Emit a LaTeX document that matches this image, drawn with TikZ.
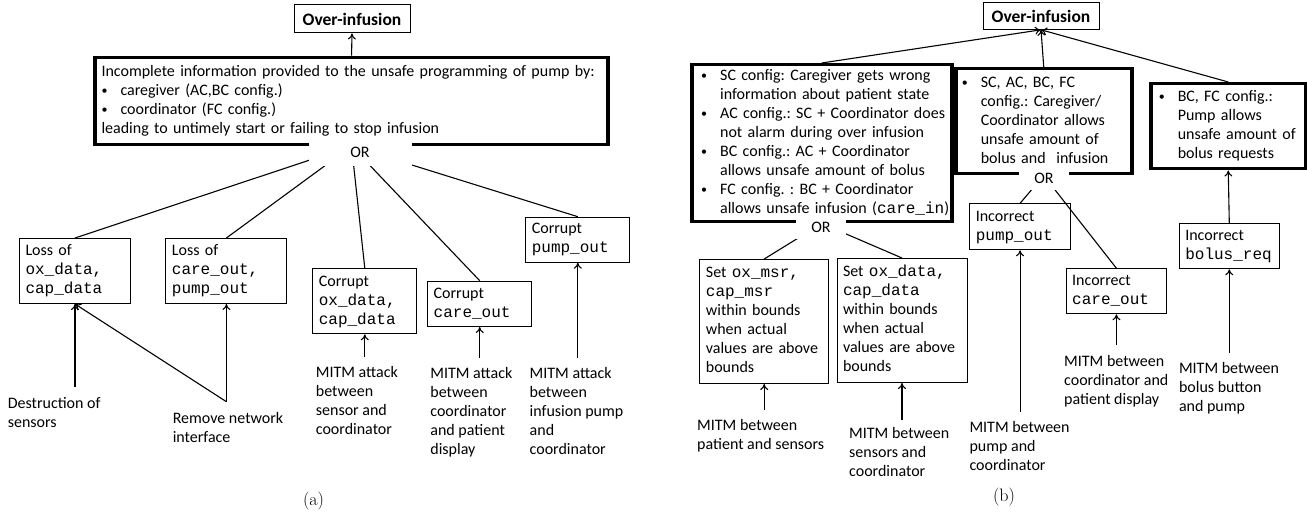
\documentclass[tikz,border=0pt]{standalone}
\usepackage{fontspec}
\setmonofont{Liberation Mono}
\newfontfamily\calfont{Carlito}
\usetikzlibrary{arrows.meta}
\frenchspacing
\newcommand\txtf{\calfont\fontsize{16}{19}\selectfont\frenchspacing}
\newcommand\tb[1]{\begin{tabular}{@{}l@{}}#1\end{tabular}}
\newcommand\bu{\makebox[19pt][l]{\raisebox{1pt}{\fontsize{12}{12}\selectfont •}}}
\newcommand\ind{\hspace*{19pt}}
\newcommand\cd[1]{{\ttfamily #1}}
\tikzset{
  obox/.style={draw, line width=1pt, minimum width=116pt, minimum height=28pt, inner sep=0pt,
    font=\calfont\fontsize{17.5}{20}\selectfont\bfseries},
  tbox/.style={draw, line width=3.5pt, anchor=north west, inner ysep=2pt, align=left},
  sbox/.style={draw, line width=1pt, anchor=north west, inner xsep=6pt, inner ysep=2pt, align=left},
  lbl/.style={anchor=north west, inner sep=0pt},
  ornode/.style={fill=white, inner sep=0pt},
  con/.style={line width=1.1pt},
  arr/.style={line width=1.1pt, -{To[length=6pt,width=8pt]}},
  capt/.style={font=\fontsize{18}{22}\selectfont},
}
\begin{document}
\begin{tikzpicture}[x=1pt, y=-1pt, every node/.style={font=\txtf}]
\useasboundingbox (0,0) rectangle (1307,518);

% ---------------- (a) ----------------
\node[obox] (o1) at (352,19) {Over-infusion};
\node[tbox, inner xsep=6.4pt, text width=500pt, minimum height=87pt] (big) at (93.4,55.7)
  {\tb{Incomplete information provided to the unsafe programming of pump by:\\
  \bu caregiver (AC,BC config.)\\
  \bu coordinator (FC config.)\\
  leading to untimely start or failing to stop infusion}};
\draw[arr] (big.north) -- (o1.south);

\node[sbox, text width=99pt, minimum height=65pt] (b1) at (19,238) {\tb{Loss of\\\cd{ox\_data,}\\\cd{cap\_data}}};
\node[sbox, text width=109pt, minimum height=65pt] (b2) at (165.4,238) {\tb{Loss of\\\cd{care\_out,}\\\cd{pump\_out}}};
\node[sbox, text width=92pt, minimum height=65pt] (b3) at (312.3,268.3) {\tb{Corrupt\\\cd{ox\_data,}\\\cd{cap\_data}}};
\node[sbox, text width=92pt, minimum height=45.3pt] (b4) at (427.2,280.7) {\tb{Corrupt\\\cd{care\_out}}};
\node[sbox, text width=92pt, minimum height=45pt] (b5) at (525.3,216.7) {\tb{Corrupt\\\cd{pump\_out}}};

\foreach \n in {b1,b2,b3,b4,b5} \draw[con] (big.south) -- (\n.north);
\node[ornode, minimum width=103pt, minimum height=27pt] (or1) at (360,152.5) {OR};

\coordinate (l1) at (b1.south |- 0,387);
\node[lbl] (t1) at (7.6,395.5) {\tb{Destruction of\\sensors}};
\draw[arr] (l1) -- (b1.south);
\coordinate (rn) at (b2.south |- 0,401.7);
\node[lbl] (t2) at (172.6,410.2) {\tb{Remove network\\interface}};
\draw[arr] (rn) -- (b1.south);
\draw[arr] (rn) -- (b2.south);
\coordinate (l3) at (b3.south |- 0,356.7);
\node[lbl] (t3) at (315.7,364) {\tb{MITM attack\\between\\sensor and\\coordinator}};
\draw[arr] (l3) -- (b3.south);
\coordinate (l4) at (b4.south |- 0,358);
\node[lbl] (t4) at (430.2,365.2) {\tb{MITM attack\\between\\coordinator\\and patient\\display}};
\draw[arr] (l4) -- (b4.south);
\coordinate (l5) at (b5.south |- 0,358);
\node[lbl] (t5) at (529.5,365.2) {\tb{MITM attack\\between\\infusion pump\\and\\coordinator}};
\draw[arr] (l5) -- (b5.south);

\node[capt] (ca) at (313.6,501) {(a)};

% ---------------- (b) ----------------
\node[obox, minimum height=26.6pt] (o2) at (1041,16) {Over-infusion};
\node[tbox, inner xsep=9.4pt, text width=241.2pt, minimum height=157pt] (A) at (690,63)
  {\tb{\bu SC config: Caregiver gets wrong\\
  \ind information about patient state\\
  \bu AC config.: SC + Coordinator does\\
  \ind not alarm during over infusion\\
  \bu BC config.: AC + Coordinator\\
  \ind allows unsafe amount of bolus\\
  \bu FC config. : BC + Coordinator\\
  \ind allows unsafe infusion (\cd{care\_in})}};
\node[tbox, inner xsep=6pt, text width=164pt, minimum height=105pt] (B) at (954,67)
  {\tb{\bu SC, AC, BC, FC\\
  \ind config.: Caregiver/\\
  \ind Coordinator allows\\
  \ind unsafe amount of\\
  \ind bolus and\ \ infusion}};
\node[tbox, inner xsep=8pt, text width=139pt, minimum height=85pt] (C) at (1149,82)
  {\tb{\bu BC, FC config.:\\
  \ind Pump allows\\
  \ind unsafe amount of\\
  \ind bolus requests}};
\draw[arr] (A.north) -- (o2.south);
\draw[arr] (B.north) -- (o2.south);
\draw[arr] (C.north) -- (o2.south);

\node[sbox, text width=116.6pt, minimum height=124pt] (s1) at (699.4,259)
  {\tb{Set \cd{ox\_msr,}\\\cd{cap\_msr}\\within bounds\\when actual\\values are above\\bounds}};
\node[sbox, text width=118pt, minimum height=124pt] (s2) at (836.5,258)
  {\tb{Set \cd{ox\_data,}\\\cd{cap\_data}\\within bounds\\when actual\\values are above\\bounds}};
\draw[con] (A.south) -- (s1.north);
\draw[con] (A.south) -- (s2.north);
\node[ornode, minimum width=50pt, minimum height=24pt] (or2) at (821,227.5) {OR};

\node[sbox, text width=88.5pt, minimum height=46pt] (p) at (969.3,203.3) {\tb{Incorrect\\\cd{pump\_out}}};
\node[sbox, text width=88.5pt, minimum height=45pt] (c) at (1065.7,268.3) {\tb{Incorrect\\\cd{care\_out}}};
\draw[con] (B.south) -- (p.north);
\draw[con] (B.south) -- (c.north);
\node[ornode, minimum width=50pt, minimum height=24pt] (or3) at (1044,178) {OR};

\node[sbox, text width=88pt, minimum height=45pt] (bo) at (1178.8,223.3) {\tb{Incorrect\\\cd{bolus\_req}}};
\draw[arr] (bo.north) -- (C.south);

\coordinate (ls1) at (s1.south |- 0,410);
\node[lbl] (u1) at (697,417.2) {\tb{MITM between\\patient and sensors}};
\draw[arr] (ls1) -- (s1.south);
\coordinate (ls2) at (s2.south |- 0,420);
\node[lbl] (u2) at (849,425) {\tb{MITM between\\sensors and\\coordinator}};
\draw[arr] (ls2) -- (s2.south);
\coordinate (lp) at (p.south |- 0,411.7);
\node[lbl] (u3) at (969.3,419.5) {\tb{MITM between\\pump and\\coordinator}};
\draw[arr] (lp) -- (p.south);
\coordinate (lc) at (c.south |- 0,345);
\node[lbl] (u4) at (1064,353) {\tb{MITM between\\coordinator and\\patient display}};
\draw[arr] (lc) -- (c.south);
\coordinate (lb) at (bo.south |- 0,353);
\node[lbl] (u5) at (1178.8,360.2) {\tb{MITM between\\bolus button\\and pump}};
\draw[arr] (lb) -- (bo.south);

\node[capt] (cb) at (1004,497) {(b)};
\end{tikzpicture}
\end{document}
